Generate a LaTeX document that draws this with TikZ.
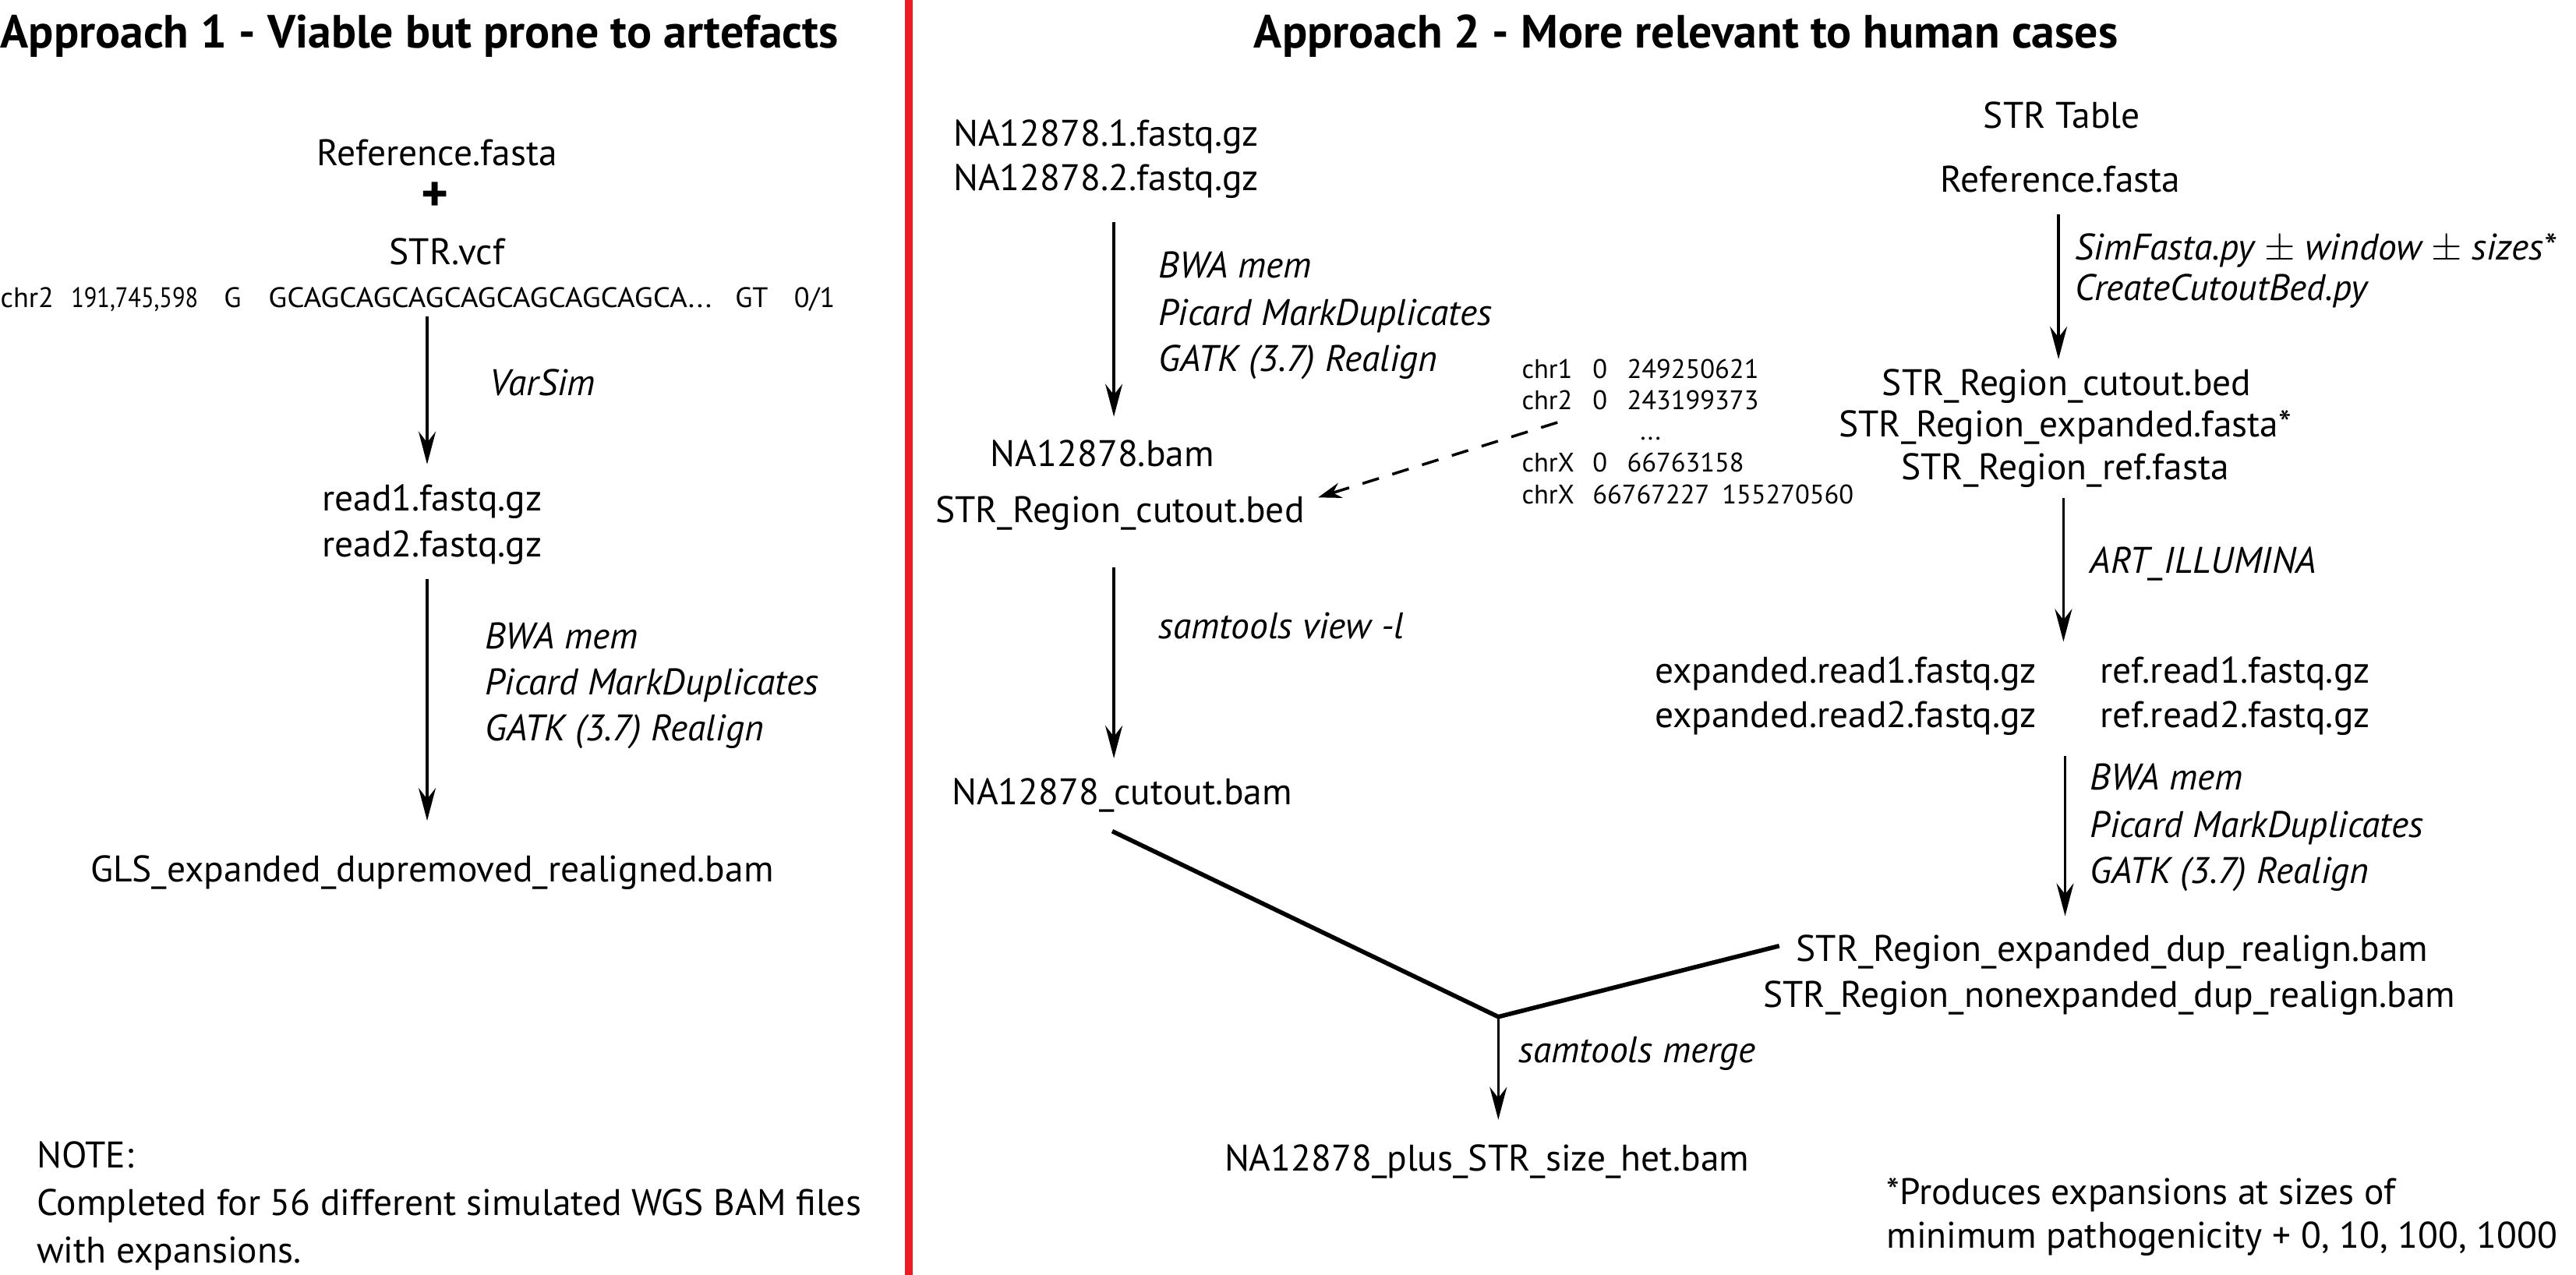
\documentclass[tikz,border=0pt]{standalone}
\usepackage{fontspec}
\setmainfont{PT Sans}
\usetikzlibrary{arrows.meta,calc}
\definecolor{divred}{RGB}{237,28,36}
\tikzset{
  tm/.style={inner sep=0pt, anchor=base, font=\fontsize{13.5}{16}\selectfont, text height=9.6pt, text depth=3.4pt},
  tml/.style={tm, anchor=base west},
  lab/.style={tml, font=\fontsize{13.5}{16}\selectfont\itshape},
  sm/.style={inner sep=0pt, anchor=base west, font=\fontsize{10.3}{12}\selectfont, text height=7.2pt, text depth=2.4pt},
  bedrow/.style={inner sep=0pt, anchor=base west, font=\fontsize{9.8}{11}\selectfont, text height=7pt, text depth=2pt},
  ttl/.style={inner sep=0pt, anchor=base west, font=\fontsize{17}{20}\selectfont\bfseries},
  arr/.style={line width=1pt, -{Stealth[length=4.2mm,width=2.2mm,inset=1.4mm]}},
  joinline/.style={line width=1.6pt},
  dasharr/.style={line width=1pt, dash pattern=on 2.2mm off 1.8mm, -{Stealth[length=3mm,width=2mm,inset=1mm]}},
  redline/.style={draw=divred, line width=2.8pt}
}
\begin{document}
\begin{tikzpicture}[x=0.02108cm, y=-0.02108cm]
\path[use as bounding box] (0,0) rectangle (1568,776);

% divider
\draw[redline] (553,0) -- (553,776);

% ---------------- Approach 1 ----------------
\node[ttl] (t1) at (0,29) {Approach 1 - Viable but prone to artefacts};
\node[tm] (ref1) at (266,101) {Reference.fasta};
\node[tm, font=\fontsize{19}{20}\selectfont\bfseries] (plus) at (265,129) {+};
\node[tm] (vcf) at (272,161) {STR.vcf};
\node[sm] (vcfline) at (0,187) {\makebox[0.906cm][l]{chr2}\makebox[1.961cm][l]{\scalebox{0.84}[1]{191,745,598}}\makebox[0.569cm][l]{G}\makebox[5.987cm][l]{\scalebox{1.08}[1]{GCAGCAGCAGCAGCAGCAGCAGCA...}}\makebox[0.757cm][l]{GT}0/1};
\coordinate (xA) at (260,0);
\node[lab] (varsim) at (298,241) {VarSim};
\node[tm] (r1a) at (263,311) {read1.fastq.gz};
\node[tm] (r2a) at (263,339) {read2.fastq.gz};
\node[lab] (l1a) at (295,395) {BWA mem};
\node[lab] (l1b) at (295,423) {Picard MarkDuplicates};
\node[lab] (l1c) at (295,451) {GATK (3.7) Realign};
\node[tm] (gls) at (263,537) {GLS\_expanded\_dupremoved\_realigned.bam};
\node[tml] (note1) at (22,711) {NOTE:};
\node[tml] (note2) at (22,740) {Completed for 56 different simulated WGS BAM files};
\node[tml] (note3) at (22,769) {with expansions.};

\draw[arr, shorten <=0.03cm, shorten >=0.253cm] (vcfline.south -| xA) -- (r1a.north -| xA);
\draw[arr, shorten <=0.154cm, shorten >=0.443cm] (r2a.south -| xA) -- (gls.north -| xA);

% ---------------- Approach 2 ----------------
\node[ttl] (t2) at (763,29) {Approach 2 - More relevant to human cases};

% left column
\coordinate (xB) at (678,0);
\node[tml] (na1) at (580,89) {NA12878.1.fastq.gz};
\node[tml] (na2) at (580,116) {NA12878.2.fastq.gz};
\node[lab] (l2a) at (705,169) {BWA mem};
\node[lab] (l2b) at (705,198) {Picard MarkDuplicates};
\node[lab] (l2c) at (705,226) {GATK (3.7) Realign};
\node[tm] (nabam) at (671,284) {NA12878.bam};
\node[tml] (bed1) at (569,318) {STR\_Region\_cutout.bed};
\node[lab] (stv) at (705,389) {samtools view -l};
\node[tml] (cut) at (579,490) {NA12878\_cutout.bam};
\node[lab] (smerge) at (924,647) {samtools merge};
\node[tml] (plusbam) at (745,713) {NA12878\_plus\_STR\_size\_het.bam};

\draw[arr, shorten <=0.28cm, shorten >=0.295cm] (na2.south -| xB) -- (nabam.north -| xB);
\draw[arr, shorten <=0.449cm, shorten >=0.253cm] (bed1.south -| xB) -- (cut.north -| xB);

% bed table
\node[bedrow] (bedr1) at (926,230.5) {\makebox[0.907cm][l]{chr1}\makebox[0.443cm][l]{0}249250621};
\node[bedrow] (bedr2) at (926,249.5) {\makebox[0.907cm][l]{chr2}\makebox[0.443cm][l]{0}243199373};
\node[bedrow] (bedr3) at (998,268) {...};
\node[bedrow] (bedr4) at (926,287.5) {\makebox[0.907cm][l]{chrX}\makebox[0.443cm][l]{0}66763158};
\node[bedrow] (bedr5) at (926,306.5) {\makebox[0.907cm][l]{chrX}\makebox[1.66cm][l]{66767227}155270560};
\draw[dasharr] ([shift={(22,4)}]bedr2.south west) -- ([shift={(8,-10)}]bed1.east);

% right column
\node[tm] (strt) at (1255,78) {STR Table};
\node[tm] (rf2) at (1254,117) {Reference.fasta};
\node[lab] (l3a) at (1263,158) {SimFasta.py $\pm$ window $\pm$ sizes*};
\node[lab] (l3b) at (1263,183) {CreateCutoutBed.py};
\node[tm] (rbed) at (1258,241) {STR\_Region\_cutout.bed};
\node[tm] (rexp) at (1257,266) {STR\_Region\_expanded.fasta*};
\node[tm] (rref) at (1257,292) {STR\_Region\_ref.fasta};
\node[lab] (art) at (1272,349) {ART\_ILLUMINA};
\node[tml] (er1) at (1007,416) {expanded.read1.fastq.gz};
\node[tml] (er2) at (1007,443) {expanded.read2.fastq.gz};
\node[tml] (rr1) at (1278,416) {ref.read1.fastq.gz};
\node[tml] (rr2) at (1278,443) {ref.read2.fastq.gz};
\node[lab] (l4a) at (1272,481) {BWA mem};
\node[lab] (l4b) at (1272,510) {Picard MarkDuplicates};
\node[lab] (l4c) at (1272,538) {GATK (3.7) Realign};
\node[tml] (edup) at (1093,585) {STR\_Region\_expanded\_dup\_realign.bam};
\node[tml] (nedup) at (1073,613) {STR\_Region\_nonexpanded\_dup\_realign.bam};
\node[tml] (prod1) at (1148,733) {*Produces expansions at sizes of};
\node[tml] (prod2) at (1148,760) {minimum pathogenicity + 0, 10, 100, 1000};

\coordinate (xC1) at (1253,0);
\coordinate (xC2) at (1256,0);
\coordinate (xC3) at (1257,0);
\draw[arr, shorten <=0.154cm, shorten >=0.126cm] (rf2.south -| xC1) -- (rbed.north -| xC1);
\draw[arr, shorten <=0.112cm, shorten >=0.19cm] (rref.south -| xC2) -- (er1.north -| xC2);
\draw[arr, shorten <=0.238cm, shorten >=0.232cm] (er2.south -| xC3) -- (edup.north -| xC3);

% merge
\coordinate (mj) at (912,619);
\draw[joinline] ([shift={(98,10)}]cut.south west) -- (mj) -- ([shift={(-10,-4)}]edup.west);
\draw[arr, shorten >=0.316cm] (mj) -- (plusbam.north -| mj);
\end{tikzpicture}
\end{document}
